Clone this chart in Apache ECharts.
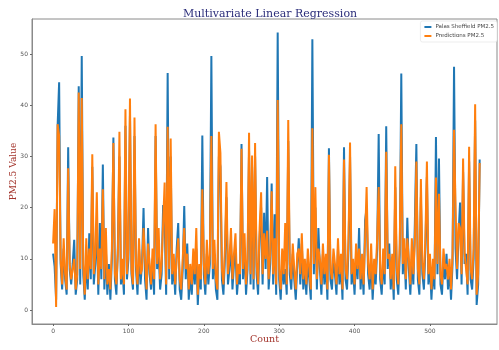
<!DOCTYPE html>
<html>
<head>
<meta charset="utf-8">
<script src="https://cdn.jsdelivr.net/npm/echarts@6/dist/echarts.min.js"></script>
<style>
  html, body { margin: 0; padding: 0; background: #fff; }
  #chart { width: 499px; height: 350px; }
</style>
</head>
<body>
<div id="chart"></div>
<script>
// Sample spacing along the Count axis
const COUNT_STEP = 2;

// Measured PM2.5 (Palas Sheffield)
const actual = [
  11, 8.5, 2, 36, 44.5, 9, 4, 12, 6, 3,
  31.8, 8, 5, 9, 13.7, 3, 6, 43.7, 5, 49.6,
  7, 2, 10, 4, 15, 6, 28, 5, 9, 17,
  3, 17, 6, 28.4, 4, 12, 3, 9, 2, 10,
  33.7, 6, 3, 13, 30, 5, 8, 3, 36, 6,
  10, 38, 7, 4, 34, 8, 3, 12, 5, 9,
  19.9, 6, 2, 16, 7, 4, 10, 3, 34, 8,
  12, 4, 7, 20.5, 18, 3, 46.3, 6, 30, 5,
  9, 3, 12, 17, 4, 2, 8, 20.3, 6, 13,
  2, 7, 3, 10, 5, 12, 1, 8, 4, 34.1,
  7, 3, 11, 5, 9, 49.6, 6, 11, 4, 2,
  30, 28, 6, 3, 10, 22, 5, 8, 13, 4,
  9, 12, 3, 7, 5, 32.4, 6, 12, 3, 8,
  31, 5, 28, 4, 30, 7, 3, 14, 20, 5,
  19, 8, 26, 4, 9, 24.7, 5, 18.7, 3, 54.2,
  6, 2, 10, 5, 8, 3, 33, 7, 4, 11,
  6, 2, 9, 14, 5, 13, 4, 8, 3, 10,
  6, 2, 52.9, 7, 20, 4, 16, 8, 3, 11,
  5, 9, 2, 31.6, 6, 4, 10, 7, 3, 12,
  5, 9, 2, 31.8, 6, 4, 12, 30, 5, 8,
  3, 11, 6, 16, 4, 9, 3, 17.5, 20, 7,
  4, 10, 2, 8, 5, 12, 34.4, 6, 3, 10,
  5, 35.9, 8, 13, 4, 9, 2, 24, 6, 3,
  11, 46.2, 7, 12, 4, 18, 8, 3, 10, 5,
  17, 32.4, 6, 3, 22, 7, 4, 12, 26, 5,
  9, 2, 8, 4, 33.8, 7, 29.6, 5, 3, 10,
  6, 11, 4, 8, 2, 9, 47.5, 12, 6, 15,
  21, 5, 27, 9, 11, 3, 29, 6, 4, 10,
  37, 1, 5, 29.4
];

// Model output (Predictions PM2.5)
const predicted = [
  13, 19.7, 0.6, 36.3, 34, 10, 5, 14, 7, 4,
  27.7, 9, 6, 8, 10, 4, 7, 42.5, 8, 41.4,
  9, 3, 14, 6, 12, 8, 30.4, 7, 11, 23,
  5, 12, 8, 23.6, 6, 16, 5, 8, 4, 12,
  32.6, 7, 5, 11, 34.8, 6, 10, 5, 39.2, 7,
  12, 41.3, 8, 5, 37.6, 9, 5, 14, 7, 8,
  16, 10, 4, 13, 9, 5, 12, 6, 36.3, 9,
  16, 6, 9, 17, 24.9, 5, 35.8, 8, 33.5, 7,
  11, 5, 10, 14, 6, 4, 10, 16, 8, 11,
  4, 9, 5, 12, 7, 16, 3, 9, 6, 23.6,
  9, 5, 13.7, 7, 11, 34, 8, 13.7, 6, 4,
  34.8, 30.7, 8, 5, 12, 25, 7, 10, 16, 6,
  11, 15, 5, 9, 7, 31.5, 8, 15, 5, 10,
  34.6, 7, 30.2, 6, 32.6, 9, 5, 16, 23, 7,
  15, 10, 15.5, 6, 11, 23.2, 7, 14, 5, 41,
  8, 4, 12, 7, 17, 5, 37.1, 9, 6, 13,
  8, 4, 11, 12, 7, 15, 6, 10, 5, 12,
  8, 4, 35.5, 9, 24, 6, 12, 10, 5, 13,
  7, 11, 4, 30.3, 8, 6, 12, 9, 5, 14,
  7, 11, 4, 29.4, 8, 6, 14, 32.7, 7, 10,
  5, 13, 8, 12, 6, 11, 5, 14, 24, 9,
  6, 13, 4, 10, 7, 14, 24, 8, 5, 12,
  7, 30.9, 10, 11, 6, 11, 4, 28.1, 8, 5,
  13, 36.3, 9, 14, 6, 14, 10, 5, 14, 7,
  13, 29, 8, 5, 25.6, 9, 6, 14, 29, 7,
  11, 4, 10, 6, 25.9, 9, 22.7, 7, 5, 12,
  8, 9, 6, 10, 4, 11, 35.2, 20, 8, 17,
  16, 7, 29.6, 11, 8, 5, 31.9, 8, 6, 12,
  40.2, 3, 7, 28.7
];

const xTicks = [0, 100, 200, 300, 400, 500];
const yTicks = [0, 10, 20, 30, 40, 50];

const toPoints = (vals) => vals.map((v, k) => [k * COUNT_STEP, v]);

const chart = echarts.init(document.getElementById('chart'), null, { renderer: 'canvas' });

const tickLabelStyle = { color: '#555', fontSize: 6, fontFamily: 'DejaVu Sans' };

chart.setOption({
  animation: false,
  backgroundColor: '#ffffff',
  title: {
    text: 'Multivariate Linear Regression',
    left: 265,
    top: 4,
    textAlign: 'center',
    textStyle: { fontFamily: 'DejaVu Serif', fontSize: 11, fontWeight: 'normal', color: '#2b2d7a' }
  },
  legend: {
    orient: 'vertical',
    right: 2,
    top: 21,
    itemWidth: 7,
    itemHeight: 2,
    itemGap: 3,
    padding: [3, 3, 3, 4],
    backgroundColor: '#ffffff',
    borderColor: '#e0e0e0',
    borderWidth: 0.6,
    borderRadius: 2,
    icon: 'rect',
    textStyle: { fontSize: 5.5, color: '#444', fontFamily: 'DejaVu Sans', padding: [0, 0, 0, -1] },
    data: ['Palas Sheffield PM2.5', 'Predictions PM2.5']
  },
  grid: {
    left: 32, right: 2, top: 19, bottom: 26,
    outerBoundsMode: 'none',
    containLabel: false,
    show: true, borderColor: '#8a8a8a', borderWidth: 1, backgroundColor: 'transparent'
  },
  xAxis: {
    type: 'value',
    min: -28,
    max: 589,
    name: 'Count',
    nameLocation: 'middle',
    nameGap: 11,
    nameMoveOverlap: false,
    nameTextStyle: { fontFamily: 'DejaVu Serif', fontSize: 9.5, color: '#a3342c' },
    splitLine: { show: false },
    axisLine: { show: true, onZero: false, lineStyle: { color: '#8a8a8a', width: 1 } },
    axisTick: { show: true, length: 2, customValues: xTicks, lineStyle: { color: '#666' } },
    axisLabel: { customValues: xTicks, margin: 4, ...tickLabelStyle }
  },
  yAxis: {
    type: 'value',
    min: -2.73,
    max: 56.84,
    name: 'PM2.5 Value',
    nameLocation: 'middle',
    nameGap: 14,
    nameMoveOverlap: false,
    nameTextStyle: { fontFamily: 'DejaVu Serif', fontSize: 9, color: '#a3342c' },
    splitLine: { show: false },
    axisLine: { show: true, onZero: false, lineStyle: { color: '#8a8a8a', width: 1 } },
    axisTick: { show: true, length: 2, customValues: yTicks, lineStyle: { color: '#666' } },
    axisLabel: { customValues: yTicks, margin: 4, ...tickLabelStyle }
  },
  series: [
    {
      name: 'Palas Sheffield PM2.5',
      type: 'line',
      data: toPoints(actual),
      showSymbol: false,
      color: '#1f77b4',
      lineStyle: { width: 2, color: '#1f77b4' },
      z: 2
    },
    {
      name: 'Predictions PM2.5',
      type: 'line',
      data: toPoints(predicted),
      showSymbol: false,
      color: '#ff7f0e',
      lineStyle: { width: 2, color: '#ff7f0e' },
      z: 3
    }
  ]
});
</script>
</body>
</html>
